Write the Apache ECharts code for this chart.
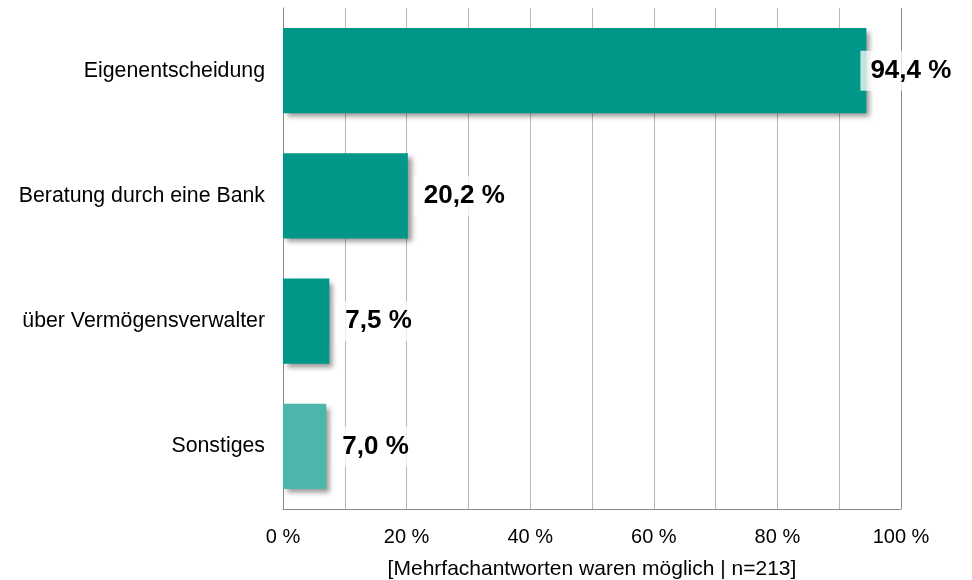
<!DOCTYPE html>
<html>
<head>
<meta charset="utf-8">
<script src="https://cdn.jsdelivr.net/npm/echarts@6/dist/echarts.min.js"></script>
<style>
html,body{margin:0;padding:0;background:#fff;}
#chart{width:972px;height:580px;}
</style>
</head>
<body>
<div id="chart"></div>
<script>
const categories = ['Eigenentscheidung', 'Beratung durch eine Bank', 'über Vermögensverwalter', 'Sonstiges'];
const values = [94.4, 20.2, 7.5, 7.0];
const barColors = ['#009688', '#009688', '#009688', '#4DB6AC'];
const tickLabels = ['0 %', '20 %', '40 %', '60 %', '80 %', '100 %'];
const axisName = '[Mehrfachantworten waren möglich | n=213]';

const FONT = "'Liberation Sans', Arial, sans-serif";
const chart = echarts.init(document.getElementById('chart'), null, {renderer: 'canvas'});

const data = values.map((v, i) => {
  const item = {
    value: v,
    itemStyle: {color: barColors[i]}
  };
  if (i === 0) item.label = {distance: -6};
  return item;
});

const gridColors = ['#b8b8b8','#b8b8b8','#b8b8b8','#b8b8b8','#b8b8b8','#b8b8b8','#b8b8b8','#b8b8b8','#b8b8b8','#b8b8b8','#888888'];

chart.setOption({
  animation: false,
  backgroundColor: '#ffffff',
  grid: {left: 283, right: 71, top: 8, bottom: 71, containLabel: false, outerBoundsMode: 'none'},
  xAxis: {
    type: 'value',
    min: 0,
    max: 100,
    interval: 10,
    name: axisName,
    nameLocation: 'middle',
    nameGap: 50,
    nameTextStyle: {fontFamily: FONT, fontSize: 21, color: '#000'},
    axisLine: {show: true, lineStyle: {color: '#888888', width: 1}},
    axisTick: {show: false},
    axisLabel: {
      fontFamily: FONT, fontSize: 20, color: '#000', margin: 18,
      formatter: v => (v % 20 === 0 ? tickLabels[v / 20] : '')
    },
    splitLine: {show: true, lineStyle: {color: gridColors, width: 1}}
  },
  yAxis: {
    type: 'category',
    inverse: true,
    data: categories,
    axisLine: {show: true, lineStyle: {color: '#888888', width: 1}},
    axisTick: {show: false},
    axisLabel: {fontFamily: FONT, fontSize: 21.3, color: '#000', margin: 18}
  },
  series: [{
    type: 'bar',
    data: data,
    barCategoryGap: '32%',
    itemStyle: {
      shadowColor: 'rgba(0,0,0,0.4)',
      shadowBlur: 5,
      shadowOffsetX: 4,
      shadowOffsetY: 4
    },
    label: {
      show: true,
      position: 'right',
      distance: 6,
      fontFamily: FONT,
      fontSize: 26,
      fontWeight: 'bold',
      color: '#000',
      backgroundColor: 'rgba(255,255,255,0.75)',
      padding: [7, 10, 7, 10],
      formatter: p => p.value.toFixed(1).replace('.', ',') + ' %'
    }
  }]
});
</script>
</body>
</html>
